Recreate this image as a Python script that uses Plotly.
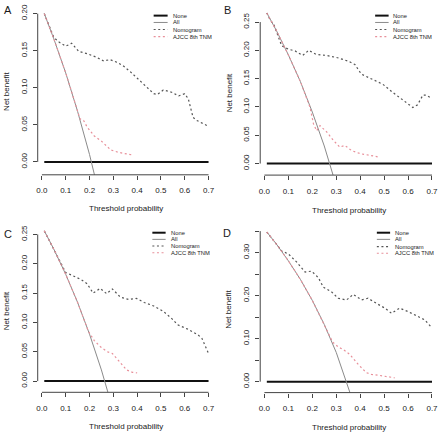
import plotly.graph_objects as go

# ---------------- data ----------------
x_ticks = [0.0, 0.1, 0.2, 0.3, 0.4, 0.5, 0.6, 0.7]
x_tick_labels = ["0.0", "0.1", "0.2", "0.3", "0.4", "0.5", "0.6", "0.7"]
none_t = [0.01, 0.7]
none_nb = [0.0, 0.0]

series_names = ["None", "All", "Nomogram", "AJCC 8th TNM"]
panel_letters = ["A", "B", "C", "D"]

# Panel A
A_all_t = [0.01, 0.05, 0.10, 0.15, 0.20, 0.25]
A_all = [0.200, 0.166, 0.120, 0.068, 0.010, -0.056]
A_nom_t = [0.01, 0.03, 0.05, 0.07, 0.10, 0.125, 0.155, 0.19, 0.23, 0.26, 0.285, 0.31, 0.34, 0.37,
           0.40, 0.425, 0.45, 0.47, 0.485, 0.51, 0.545, 0.575, 0.60, 0.615, 0.635, 0.65, 0.675, 0.70]
A_nom = [0.200, 0.184, 0.168, 0.162, 0.156, 0.160, 0.149, 0.146, 0.141, 0.136, 0.138, 0.135, 0.130, 0.122,
         0.113, 0.106, 0.099, 0.092, 0.091, 0.097, 0.094, 0.089, 0.092, 0.085, 0.060, 0.056, 0.052, 0.048]
A_ajcc_t = [0.01, 0.05, 0.10, 0.13, 0.16, 0.175, 0.19, 0.22, 0.25, 0.27, 0.29, 0.32, 0.35, 0.385]
A_ajcc = [0.200, 0.166, 0.120, 0.090, 0.058, 0.056, 0.047, 0.035, 0.028, 0.022, 0.016, 0.013, 0.011, 0.009]
A_yticks = [0.00, 0.05, 0.10, 0.15, 0.20]
A_ytick_labels = ["0.00", "0.05", "0.10", "0.15", "0.20"]

# Panel B
B_all_t = [0.01, 0.05, 0.10, 0.15, 0.20, 0.25, 0.30]
B_all = [0.266, 0.235, 0.192, 0.145, 0.091, 0.031, -0.039]
B_nom_t = [0.01, 0.025, 0.04, 0.072, 0.10, 0.128, 0.16, 0.185, 0.215, 0.26, 0.305, 0.35, 0.378, 0.405,
           0.455, 0.495, 0.535, 0.585, 0.62, 0.64, 0.662, 0.675, 0.70]
B_nom = [0.266, 0.253, 0.245, 0.208, 0.202, 0.199, 0.191, 0.200, 0.193, 0.191, 0.187, 0.181, 0.175, 0.158,
         0.148, 0.140, 0.126, 0.111, 0.099, 0.104, 0.121, 0.121, 0.115]
B_ajcc_t = [0.01, 0.05, 0.10, 0.15, 0.19, 0.205, 0.218, 0.232, 0.26, 0.288, 0.315, 0.336, 0.364, 0.40, 0.44, 0.475]
B_ajcc = [0.266, 0.235, 0.192, 0.145, 0.100, 0.070, 0.058, 0.067, 0.056, 0.041, 0.029, 0.032, 0.023, 0.0175, 0.0146, 0.0117]
B_yticks = [0.00, 0.05, 0.10, 0.15, 0.20, 0.25]
B_ytick_labels = ["0.00", "0.05", "0.10", "0.15", "0.20", "0.25"]

# Panel C
C_all_t = [0.01, 0.05, 0.10, 0.15, 0.20, 0.25, 0.30]
C_all = [0.256, 0.225, 0.182, 0.134, 0.080, 0.019, -0.051]
C_nom_t = [0.01, 0.05, 0.085, 0.10, 0.128, 0.165, 0.19, 0.215, 0.245, 0.272, 0.296, 0.33, 0.365, 0.397,
           0.43, 0.47, 0.51, 0.547, 0.57, 0.61, 0.655, 0.672, 0.70]
C_nom = [0.256, 0.225, 0.197, 0.185, 0.180, 0.173, 0.166, 0.150, 0.158, 0.149, 0.157, 0.143, 0.139, 0.141,
         0.134, 0.128, 0.119, 0.106, 0.096, 0.089, 0.079, 0.073, 0.047]
C_ajcc_t = [0.01, 0.05, 0.10, 0.15, 0.195, 0.22, 0.247, 0.275, 0.296, 0.324, 0.356, 0.38, 0.40]
C_ajcc = [0.256, 0.225, 0.182, 0.134, 0.085, 0.069, 0.058, 0.050, 0.047, 0.033, 0.019, 0.015, 0.014]
C_yticks = [0.00, 0.05, 0.10, 0.15, 0.20, 0.25]
C_ytick_labels = ["0.00", "0.05", "0.10", "0.15", "0.20", "0.25"]

# Panel D
D_all_t = [0.01, 0.05, 0.10, 0.15, 0.20, 0.25, 0.30, 0.35, 0.40]
D_all = [0.348, 0.320, 0.281, 0.238, 0.189, 0.133, 0.068, -0.008, -0.095]
D_nom_t = [0.01, 0.05, 0.072, 0.10, 0.135, 0.17, 0.197, 0.225, 0.246, 0.28, 0.308, 0.343, 0.371, 0.406,
           0.433, 0.468, 0.503, 0.531, 0.565, 0.60, 0.642, 0.669, 0.70]
D_nom = [0.348, 0.320, 0.304, 0.297, 0.278, 0.255, 0.257, 0.242, 0.220, 0.209, 0.194, 0.190, 0.203, 0.190,
         0.194, 0.182, 0.171, 0.159, 0.171, 0.163, 0.152, 0.144, 0.125]
D_ajcc_t = [0.01, 0.05, 0.10, 0.15, 0.20, 0.25, 0.285, 0.31, 0.329, 0.357, 0.392, 0.426, 0.447, 0.475, 0.517, 0.544]
D_ajcc = [0.348, 0.320, 0.281, 0.238, 0.189, 0.133, 0.092, 0.080, 0.075, 0.063, 0.040, 0.021, 0.017, 0.015, 0.011, 0.009]
D_yticks = [0.00, 0.05, 0.10, 0.15, 0.20, 0.25, 0.30, 0.35]
D_ytick_labels = ["0.00", "", "0.10", "", "0.20", "", "0.30", ""]

# ---------------- layout geometry (pixels) ----------------
W, H = 440, 436
FONT = "Liberation Sans, Arial, sans-serif"

def px_x(p):
    return p / W

def px_y(p):
    return 1 - p / H

X_RANGE = [-0.0176, 0.7276]

panels = [
    dict(letter="A", all_t=A_all_t, all_v=A_all, nom_t=A_nom_t, nom_v=A_nom, aj_t=A_ajcc_t, aj_v=A_ajcc,
         yticks=A_yticks, ylabels=A_ytick_labels,
         box=(36.8, 214.6, 4.4, 173.0), yrange=[-0.0174, 0.2084],
         letter_pos=(7.5, 7.5), ytitle_pos=(5.5, 89), xtitle_y=207,
         leg_key=(153, 167), leg_text=170, leg_rows=[12.7, 19.6, 26.7, 33.8]),
    dict(letter="B", all_t=B_all_t, all_v=B_all, nom_t=B_nom_t, nom_v=B_nom, aj_t=B_ajcc_t, aj_v=B_ajcc,
         yticks=B_yticks, ylabels=B_ytick_labels,
         box=(259.8, 438.6, 3.8, 173.3), yrange=[-0.0204, 0.277],
         letter_pos=(227, 7.5), ytitle_pos=(228.5, 90), xtitle_y=209,
         leg_key=(375, 388.5), leg_text=390.5, leg_rows=[12.7, 19.6, 26.7, 33.8]),
    dict(letter="C", all_t=C_all_t, all_v=C_all, nom_t=C_nom_t, nom_v=C_nom, aj_t=C_ajcc_t, aj_v=C_ajcc,
         yticks=C_yticks, ylabels=C_ytick_labels,
         box=(36.8, 214.6, 223.2, 392.0), yrange=[-0.0191, 0.2666],
         letter_pos=(7, 233), ytitle_pos=(5.5, 310), xtitle_y=426.3,
         leg_key=(151.7, 165), leg_text=168.3, leg_rows=[231.3, 238.0, 244.7, 251.5]),
    dict(letter="D", all_t=D_all_t, all_v=D_all, nom_t=D_nom_t, nom_v=D_nom, aj_t=D_ajcc_t, aj_v=D_ajcc,
         yticks=D_yticks, ylabels=D_ytick_labels,
         box=(259.8, 438.6, 223.5, 392.3), yrange=[-0.0254, 0.3644],
         letter_pos=(227, 231.5), ytitle_pos=(228.5, 308), xtitle_y=427.3,
         leg_key=(376.7, 390), leg_text=393.3, leg_rows=[231.3, 238.0, 245.3, 252.0]),
]

styles = {
    "None": dict(color="#111111", width=2.0, dash="solid"),
    "All": dict(color="#8a8a8a", width=1.0, dash="solid"),
    "Nomogram": dict(color="#555555", width=1.2, dash="2px,2.6px"),
    "AJCC 8th TNM": dict(color="#e8909a", width=1.2, dash="2px,2.6px"),
}
AXIS_COLOR = "#444444"
TEXT_COLOR = "#1a1a1a"

fig = go.Figure()
shapes = []
annotations = []

for i, p in enumerate(panels):
    sfx = "" if i == 0 else str(i + 1)
    xa, ya = "x" + sfx, "y" + sfx
    left, right, top, bottom = p["box"]
    series = [
        ("None", none_t, none_nb),
        ("All", p["all_t"], p["all_v"]),
        ("Nomogram", p["nom_t"], p["nom_v"]),
        ("AJCC 8th TNM", p["aj_t"], p["aj_v"]),
    ]
    for name, tx, vy in series:
        fig.add_trace(go.Scatter(
            x=tx, y=vy, mode="lines", name=name, showlegend=False,
            line=dict(color=styles[name]["color"], width=styles[name]["width"], dash=styles[name]["dash"]),
            xaxis=xa, yaxis=ya, hoverinfo="skip"))

    fig.layout["xaxis" + sfx] = dict(
        domain=[px_x(left), px_x(right)], range=X_RANGE, anchor=ya,
        showgrid=False, zeroline=False, showline=False,
        ticks="outside", ticklen=4, tickwidth=1, tickcolor=AXIS_COLOR,
        tickvals=x_ticks, ticktext=x_tick_labels, ticklabelstandoff=4,
        tickfont=dict(family=FONT, size=8, color=TEXT_COLOR))
    fig.layout["yaxis" + sfx] = dict(
        domain=[px_y(bottom), px_y(top)], range=p["yrange"], anchor=xa,
        showgrid=False, zeroline=False, showline=False,
        ticks="outside", ticklen=4, tickwidth=1, tickcolor=AXIS_COLOR,
        tickvals=p["yticks"], ticktext=p["ylabels"], tickangle=-90, ticklabelstandoff=3,
        tickfont=dict(family=FONT, size=8, color=TEXT_COLOR))

    # R-style axis lines spanning first to last tick
    shapes.append(dict(type="line", xref=xa, yref=ya + " domain", x0=x_ticks[0], x1=x_ticks[-1], y0=0, y1=0,
                       line=dict(color=AXIS_COLOR, width=1)))
    shapes.append(dict(type="line", xref=xa + " domain", yref=ya, x0=0, x1=0, y0=p["yticks"][0], y1=p["yticks"][-1],
                       line=dict(color=AXIS_COLOR, width=1)))

    # titles and panel letter
    annotations.append(dict(text="Threshold probability", xref="paper", yref="paper",
                            x=px_x((left + right) / 2), y=px_y(p["xtitle_y"]), showarrow=False,
                            xanchor="center", yanchor="middle", font=dict(family=FONT, size=8, color=TEXT_COLOR)))
    annotations.append(dict(text="Net benefit", xref="paper", yref="paper",
                            x=px_x(p["ytitle_pos"][0]), y=px_y(p["ytitle_pos"][1]), showarrow=False, textangle=-90,
                            xanchor="center", yanchor="middle", font=dict(family=FONT, size=8, color=TEXT_COLOR)))
    annotations.append(dict(text=p["letter"], xref="paper", yref="paper",
                            x=px_x(p["letter_pos"][0]), y=px_y(p["letter_pos"][1]), showarrow=False,
                            xanchor="center", yanchor="middle", font=dict(family=FONT, size=11, color=TEXT_COLOR)))

    # legend (top right, no box)
    k0, k1 = p["leg_key"]
    for name, ry in zip(series_names, p["leg_rows"]):
        st = styles[name]
        shapes.append(dict(type="line", xref="paper", yref="paper", x0=px_x(k0), x1=px_x(k1),
                           y0=px_y(ry), y1=px_y(ry),
                           line=dict(color=st["color"], width=st["width"], dash=st["dash"])))
        annotations.append(dict(text=name, xref="paper", yref="paper", x=px_x(p["leg_text"]), y=px_y(ry),
                                showarrow=False, xanchor="left", yanchor="middle",
                                font=dict(family=FONT, size=5.8, color=TEXT_COLOR)))

fig.update_layout(
    width=W, height=H, margin=dict(l=0, r=0, t=0, b=0),
    paper_bgcolor="white", plot_bgcolor="white",
    showlegend=False, shapes=shapes, annotations=annotations,
    font=dict(family=FONT, color=TEXT_COLOR))

fig.write_html("out.html", config={"displayModeBar": False, "staticPlot": True},
               post_script="document.body.style.margin='0';document.body.style.padding='0';"
                           "document.body.style.overflow='hidden';")
